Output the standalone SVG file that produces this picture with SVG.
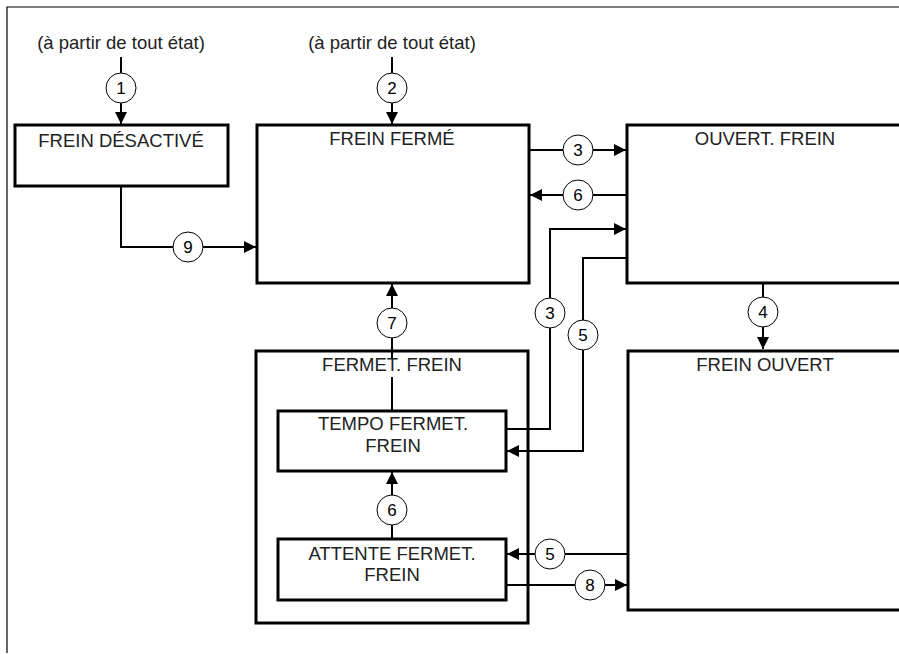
<svg xmlns="http://www.w3.org/2000/svg" width="899" height="654" viewBox="0 0 899 654">
<style>
.box{fill:none;stroke:#000;stroke-width:3}
.frame{fill:none;stroke:#000;stroke-width:1.2}
.c{fill:none;stroke:#000;stroke-width:2}
.num{fill:#fff;stroke:#000;stroke-width:1}
text{font-family:"Liberation Sans",Arial,sans-serif;font-size:18.5px;fill:#222;text-anchor:middle}
.n{font-size:17px;fill:#000}
</style>
<defs>
<marker id="ah" viewBox="0 0 12 12" refX="12" refY="6" markerWidth="12" markerHeight="12" markerUnits="userSpaceOnUse" orient="auto">
<path d="M0,0 L12,6 L0,12 Z" fill="#000"/>
</marker>
</defs>
<path class="frame" d="M7,653 V7 H899"/>
<text x="121" y="49">(à partir de tout état)</text>
<text x="392" y="49">(à partir de tout état)</text>

<g id="connectors">
<path class="c" d="M121,57 V124" marker-end="url(#ah)"/>
<path class="c" d="M392,57 V124" marker-end="url(#ah)"/>
<path class="c" d="M121,186 V247 H256" marker-end="url(#ah)"/>
<path class="c" d="M529,150 H626" marker-end="url(#ah)"/>
<path class="c" d="M627,195 H530" marker-end="url(#ah)"/>
<path class="c" d="M506,429 H550 V229 H626" marker-end="url(#ah)"/>
<path class="c" d="M627,258 H583 V451 H507" marker-end="url(#ah)"/>
<path class="c" d="M763,284 V349" marker-end="url(#ah)"/>
<path class="c" d="M392,358 V284" marker-end="url(#ah)"/>
<path class="c" d="M392,377 V411"/>
<path class="c" d="M392,539 V472" marker-end="url(#ah)"/>
<path class="c" d="M628,554 H507" marker-end="url(#ah)"/>
<path class="c" d="M506,585 H627" marker-end="url(#ah)"/>
<g>
<circle class="num" cx="121" cy="88" r="15"/><text class="n" x="121" y="94">1</text>
<circle class="num" cx="392" cy="88" r="15"/><text class="n" x="392" y="94">2</text>
<circle class="num" cx="188" cy="247" r="15"/><text class="n" x="188" y="253">9</text>
<circle class="num" cx="578" cy="150" r="15"/><text class="n" x="578" y="156">3</text>
<circle class="num" cx="578" cy="195" r="15"/><text class="n" x="578" y="201">6</text>
<circle class="num" cx="550" cy="313" r="15"/><text class="n" x="550" y="319">3</text>
<circle class="num" cx="583" cy="335" r="15"/><text class="n" x="583" y="341">5</text>
<circle class="num" cx="763" cy="312" r="15"/><text class="n" x="763" y="318">4</text>
<circle class="num" cx="392" cy="323" r="15"/><text class="n" x="392" y="329">7</text>
<circle class="num" cx="392" cy="510" r="15"/><text class="n" x="392" y="516">6</text>
<circle class="num" cx="550" cy="554" r="15"/><text class="n" x="550" y="560">5</text>
<circle class="num" cx="590" cy="585" r="15"/><text class="n" x="590" y="591">8</text>
</g>
</g>

<g id="frein-desactive">
<rect class="box" x="15" y="125" width="213" height="61"/>
<text x="121" y="147">FREIN DÉSACTIVÉ</text>
</g>
<g id="frein-ferme">
<rect class="box" x="257" y="125" width="272" height="158"/>
<text x="392" y="145">FREIN FERMÉ</text>
</g>
<g id="ouvert-frein">
<rect class="box" x="627" y="125" width="320" height="158"/>
<text x="765" y="145">OUVERT. FREIN</text>
</g>
<g id="frein-ouvert">
<rect class="box" x="628" y="351" width="320" height="259"/>
<text x="765" y="371">FREIN OUVERT</text>
</g>
<g id="fermet-frein">
<rect class="box" x="256" y="351" width="272" height="272"/>
<text x="392" y="371">FERMET. FREIN</text>
</g>
<g id="tempo-fermet-frein">
<rect class="box" x="278" y="411" width="228" height="60"/>
<text x="393" y="430">TEMPO FERMET.</text>
<text x="393" y="452">FREIN</text>
</g>
<g id="attente-fermet-frein">
<rect class="box" x="278" y="539" width="228" height="61"/>
<text x="392" y="560">ATTENTE FERMET.</text>
<text x="392" y="581">FREIN</text>
</g>
</svg>
